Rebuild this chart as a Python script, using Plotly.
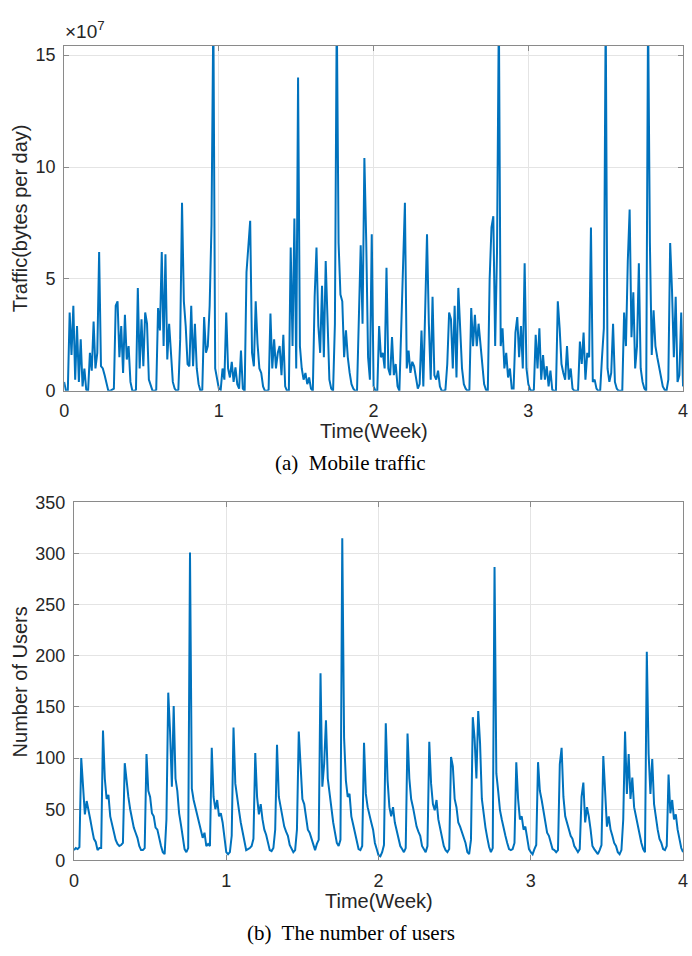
import numpy as np
import plotly.graph_objects as go

# ---------------- data (2-hour samples) ----------------
SAMPLES_PER_WEEK = 84

# (a) mobile traffic, units of 1e7 bytes per day
traffic_e7 = [
    0.4, 0.0, 0.0, 3.5, 1.6, 3.8, 0.5, 2.9, 0.4, 2.3, 0.2, 1.0,
    0.05, 0.0, 1.7, 0.9, 3.1, 1.0, 1.7, 6.2, 1.1, 1.0, 0.7, 0.4,
    0.0, 0.0, 0.05, 0.1, 3.8, 4.0, 1.5, 2.9, 0.8, 3.4, 1.4, 2.0,
    0.4, 0.02, 0.0, 0.05, 4.6, 1.0, 3.2, 1.1, 3.5, 3.0, 0.5, 0.2,
    0.0, 0.0, 0.05, 3.7, 2.7, 6.2, 2.0, 6.1, 1.4, 3.0, 1.6, 0.4,
    0.1, 0.0, 0.05, 2.3, 8.4, 4.0, 2.9, 1.2, 1.1, 3.8, 1.1, 3.0,
    1.0, 0.3, 0.0, 0.05, 3.3, 1.7, 2.0, 3.8, 7.4, 17.0, 1.0, 0.5,
    0.1, 0.05, 1.0, 0.5, 3.5, 1.0, 0.6, 1.3, 0.4, 1.05, 0.3, 0.1,
    1.8, 0.1, 0.0, 5.3, 6.7, 7.6, 1.7, 1.1, 4.0, 2.1, 1.0, 0.8,
    0.2, 0.0, 0.0, 0.05, 3.45, 1.0, 2.3, 1.0, 1.7, 2.0, 0.7, 2.5,
    0.2, 0.0, 0.02, 6.4, 2.0, 7.7, 1.0, 14.0, 2.0, 1.0, 0.5, 0.8,
    0.3, 0.6, 0.1, 0.0, 4.2, 6.4, 2.9, 1.7, 4.7, 1.5, 5.8, 2.9,
    0.5, 0.1, 0.0, 3.0, 17.0, 6.6, 4.3, 4.0, 1.5, 2.7, 1.5, 0.8,
    0.3, 0.1, 0.0, 0.0, 3.4, 6.5, 3.0, 10.4, 6.7, 1.5, 0.5, 7.0,
    0.2, 0.0, 0.0, 2.9, 1.5, 1.7, 1.0, 5.5, 1.0, 0.7, 2.4, 0.7,
    1.2, 0.2, 0.0, 3.0, 5.3, 8.4, 1.0, 1.8, 0.8, 1.3, 1.1, 0.6,
    0.1, 0.3, 2.7, 0.2, 3.5, 7.0, 3.0, 0.5, 4.2, 0.7, 0.5, 0.9,
    0.2, 0.0, 0.0, 0.05, 1.2, 3.5, 3.2, 1.0, 3.8, 0.6, 4.6, 2.6,
    1.0, 0.3, 0.1, 0.0, 0.05, 3.7, 2.0, 3.4, 2.0, 3.0, 2.1, 1.0,
    0.3, 0.05, 0.0, 5.0, 7.3, 7.8, 2.0, 6.2, 17.0, 2.0, 2.8, 1.0,
    1.7, 0.6, 1.0, 0.1, 0.1, 2.6, 3.3, 1.5, 2.9, 1.0, 5.7, 1.0,
    0.3, 0.05, 0.0, 0.05, 2.5, 1.0, 2.8, 0.5, 1.6, 0.5, 1.1, 0.2,
    0.9, 0.05, 0.0, 0.0, 4.0, 2.8, 1.2, 0.8, 0.5, 2.0, 0.5, 1.0,
    0.1, 0.0, 0.0, 0.02, 2.2, 1.2, 2.6, 0.5, 1.7, 1.5, 7.3, 0.4,
    0.5, 0.1, 0.0, 0.0, 1.5, 2.8, 17.0, 1.0, 0.4, 0.8, 3.0, 0.4,
    0.1, 0.0, 0.0, 0.0, 3.5, 2.0, 5.8, 8.1, 2.4, 4.4, 1.0, 2.0,
    5.7, 1.0, 0.4, 0.1, 0.0, 17.0, 6.6, 1.6, 3.6, 2.0, 1.5, 1.0,
    0.6, 0.2, 0.05, 0.0, 0.5, 6.6, 4.5, 1.5, 4.2, 0.4, 0.7, 3.5,
    0.2,
]

# (b) number of users
users = [
    10, 12, 11, 13, 100, 70, 45, 58, 50, 40, 30, 21,
    18, 10, 12, 12, 127, 80, 60, 64, 43, 35, 27, 20,
    16, 14, 15, 17, 95, 75, 62, 50, 40, 32, 27, 22,
    14, 10, 10, 12, 104, 68, 62, 46, 43, 32, 30, 20,
    14, 8, 6, 40, 164, 126, 72, 151, 80, 68, 46, 35,
    24, 11, 8, 12, 301, 70, 59, 52, 46, 37, 30, 22,
    27, 14, 16, 14, 110, 62, 50, 59, 43, 46, 37, 20,
    8, 6, 8, 24, 130, 75, 60, 49, 37, 28, 20, 10,
    11, 12, 14, 21, 105, 62, 45, 55, 40, 30, 25, 17,
    10, 9, 12, 30, 113, 62, 52, 40, 33, 28, 24, 15,
    11, 8, 10, 30, 126, 95, 60, 55, 43, 30, 27, 21,
    15, 10, 16, 20, 183, 72, 94, 137, 80, 65, 46, 37,
    27, 17, 14, 20, 315, 120, 78, 62, 65, 43, 35, 27,
    17, 11, 10, 14, 115, 65, 52, 43, 37, 30, 17, 11,
    5, 4, 8, 15, 134, 78, 52, 43, 52, 37, 30, 21,
    14, 11, 8, 12, 124, 80, 60, 52, 40, 33, 28, 24,
    14, 11, 8, 14, 116, 75, 55, 49, 59, 40, 30, 22,
    14, 10, 8, 11, 101, 92, 60, 52, 37, 33, 27, 22,
    17, 8, 6, 20, 140, 119, 80, 146, 115, 60, 45, 32,
    22, 13, 8, 12, 287, 85, 68, 49, 40, 30, 24, 17,
    11, 10, 11, 17, 96, 60, 40, 43, 30, 33, 21, 11,
    8, 6, 11, 15, 96, 68, 59, 49, 37, 27, 24, 17,
    11, 10, 8, 10, 94, 110, 62, 43, 37, 30, 24, 21,
    14, 11, 8, 11, 62, 76, 37, 52, 43, 30, 14, 11,
    8, 6, 10, 15, 102, 68, 33, 43, 30, 24, 17, 14,
    8, 6, 10, 40, 126, 65, 104, 60, 81, 52, 43, 37,
    27, 17, 11, 8, 204, 104, 65, 99, 55, 40, 30, 21,
    17, 11, 10, 14, 84, 46, 59, 40, 45, 30, 22, 12,
    8,
]

week_ticks = [0, 1, 2, 3, 4]
traffic_ticks_e7 = [0, 5, 10, 15]
users_ticks = [0, 50, 100, 150, 200, 250, 300, 350]

# ---------------- layout helpers ----------------
W, H = 692, 956


def fx(p):
    return p / W


def fy(p):
    return 1 - p / H


BLUE = "#0072BD"
AX = "#8a8a8a"
GRID = "#e4e4e4"
TXT = "#262626"
SANS = "Liberation Sans, Arial, Helvetica, sans-serif"
SERIF = "Liberation Serif, Times New Roman, serif"

t_traffic = np.arange(len(traffic_e7)) / SAMPLES_PER_WEEK
t_users = np.arange(len(users)) / SAMPLES_PER_WEEK

fig = go.Figure()
fig.add_trace(go.Scatter(x=t_traffic, y=np.array(traffic_e7) * 1e7, mode="lines",
                         line=dict(color=BLUE, width=2), xaxis="x", yaxis="y",
                         hoverinfo="skip"))
fig.add_trace(go.Scatter(x=t_users, y=users, mode="lines",
                         line=dict(color=BLUE, width=2), xaxis="x2", yaxis="y2",
                         hoverinfo="skip"))

common = dict(showline=True, linecolor=AX, linewidth=1, mirror="ticks",
              ticks="inside", ticklen=5, tickcolor=AX, tickwidth=1,
              showgrid=True, gridcolor=GRID, gridwidth=1, zeroline=False,
              ticklabeloverflow="allow",
              tickfont=dict(family=SANS, size=18, color=TXT))

fig.update_layout(
    width=W, height=H, margin=dict(l=0, r=0, t=0, b=0),
    paper_bgcolor="white", plot_bgcolor="white", showlegend=False,
    xaxis=dict(domain=[fx(60), fx(688)], range=[0, 4], tickvals=week_ticks,
               anchor="y", ticklabelstandoff=4, **common),
    yaxis=dict(domain=[fy(389), fy(36.7)], range=[0, 15.41e7],
               tickvals=[v * 1e7 for v in traffic_ticks_e7],
               ticktext=[str(v) for v in traffic_ticks_e7],
               anchor="x", ticklabelstandoff=4, **common),
    xaxis2=dict(domain=[fx(70), fx(688)], range=[0, 4], tickvals=week_ticks,
                anchor="y2", ticklabelstandoff=4, **common),
    yaxis2=dict(domain=[fy(868.5), fy(503)], range=[0, 350], tickvals=users_ticks,
                anchor="x2", ticklabelstandoff=4, **common),
)

ann = [
    dict(text="×10<sup>7</sup>", x=fx(59), y=fy(35), xanchor="left", yanchor="bottom",
         font=dict(family=SANS, size=19, color=TXT)),
    dict(text="Time(Week)", x=fx(374), y=fy(430), xanchor="center", yanchor="middle",
         font=dict(family=SANS, size=20, color=TXT)),
    dict(text="Time(Week)", x=fx(379), y=fy(910), xanchor="center", yanchor="middle",
         font=dict(family=SANS, size=20, color=TXT)),
    dict(text="Traffic(bytes per day)", x=fx(15), y=fy(213), textangle=-90,
         xanchor="center", yanchor="middle", font=dict(family=SANS, size=20, color=TXT)),
    dict(text="Number of Users", x=fx(15), y=fy(686), textangle=-90,
         xanchor="center", yanchor="middle", font=dict(family=SANS, size=20, color=TXT)),
    dict(text="(a)  Mobile traffic", x=fx(351), y=fy(463), xanchor="center", yanchor="middle",
         font=dict(family=SERIF, size=21, color="black")),
    dict(text="(b)  The number of users", x=fx(351), y=fy(943), xanchor="center",
         yanchor="middle", font=dict(family=SERIF, size=21, color="black")),
]
for a in ann:
    a.update(xref="paper", yref="paper", showarrow=False)
fig.update_layout(annotations=ann)

fig.write_html("out.html")
